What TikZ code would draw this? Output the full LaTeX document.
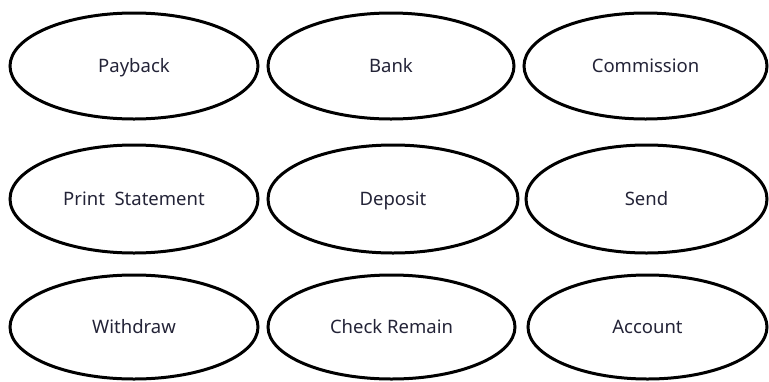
\documentclass[tikz,border=0pt]{standalone}
\usepackage{fontspec}
\setmainfont{Noto Sans}
\usetikzlibrary{shapes.geometric}
\definecolor{txt}{RGB}{35,35,55}
\begin{document}
\begin{tikzpicture}[x=1pt,y=-1pt,
  uc/.style={ellipse, draw=black, line width=3pt, inner sep=0pt,
    minimum width=#1, minimum height=106pt, text=txt,
    text height=13pt, text depth=0pt,
    font=\fontsize{18.5pt}{22pt}\selectfont},
  uc/.default=248pt]
\useasboundingbox (0,0) rectangle (769,381);
\node[uc=248pt] (payback) at (134,66) {Payback};
\node[uc=246pt] (bank) at (391,66) {Bank};
\node[uc=243pt] (commission) at (645.5,66) {Commission};
\node[uc=248pt,minimum height=108pt] (print) at (134,199) {Print\ \ Statement};
\node[uc=250pt,minimum height=108pt] (deposit) at (393,199) {Deposit};
\node[uc=241pt,minimum height=108pt] (send) at (646.5,199) {Send};
\node[uc=248pt,minimum height=104pt] (withdraw) at (134,327) {Withdraw};
\node[uc=247pt,minimum height=104pt] (check) at (391.5,327) {Check Remain};
\node[uc=239pt,minimum height=104pt] (account) at (647.5,327) {Account};
\end{tikzpicture}
\end{document}
